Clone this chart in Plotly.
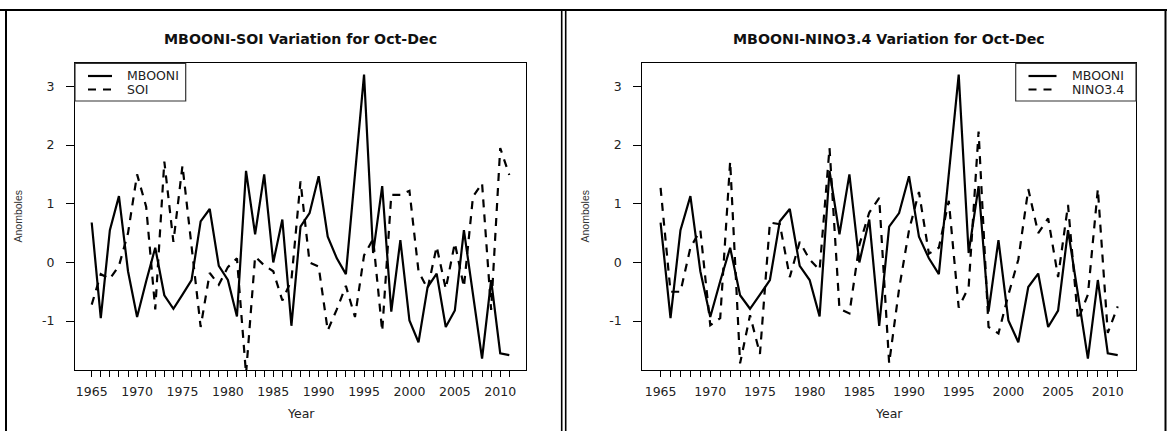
import plotly.graph_objects as go

# ---------------- data ----------------
years = list(range(1965, 2012))

mbooni = [0.68, -0.95, 0.55, 1.13, -0.15, -0.93, -0.32, 0.25, -0.56, -0.79,
          -0.55, -0.30, 0.70, 0.91, -0.06, -0.30, -0.92, 1.56, 0.48, 1.50,
          0.00, 0.73, -1.08, 0.61, 0.84, 1.47, 0.44, 0.07, -0.20, 1.45,
          3.20, 0.16, 1.30, -0.84, 0.38, -0.99, -1.36, -0.42, -0.19, -1.10,
          -0.82, 0.55, -0.55, -1.64, -0.30, -1.55, -1.58]

soi = [-0.72, -0.20, -0.28, -0.06, 0.50, 1.50, 0.95, -0.80, 1.72, 0.35,
       1.65, 0.30, -1.10, -0.18, -0.38, -0.08, 0.07, -1.90, 0.10, -0.05,
       -0.15, -0.65, -0.30, 1.38, 0.00, -0.07, -1.16, -0.80, -0.40, -0.93,
       0.12, 0.40, -1.17, 1.15, 1.15, 1.22, -0.15, -0.45, 0.27, -0.45,
       0.33, -0.42, 1.12, 1.35, -0.81, 1.95, 1.49]

nino34 = [1.27, -0.50, -0.50, 0.25, 0.55, -1.07, -0.95, 1.72, -1.72, -0.90,
          -1.56, 0.68, 0.65, -0.25, 0.35, 0.05, -0.13, 1.95, -0.79, -0.87,
          0.30, 0.85, 1.10, -1.72, -0.45, 0.55, 1.20, 0.15, 0.25, 1.05,
          -0.77, -0.42, 2.23, -1.10, -1.21, -0.55, 0.05, 1.25, 0.50, 0.75,
          -0.25, 0.98, -0.98, -0.55, 1.25, -1.20, -0.75]

x_tick_labels = [str(y) if y % 5 == 0 else "" for y in years]
y_ticks = [-1, 0, 1, 2, 3]
y_tick_labels = ["-1", "0", "1", "2", "3"]
titles = ["MBOONI-SOI Variation for Oct-Dec", "MBOONI-NINO3.4 Variation for Oct-Dec"]
legend_names = [["MBOONI", "SOI"], ["MBOONI", "NINO3.4"]]
x_title = "Year"
y_title = "Anomboles"

# ---------------- layout helpers ----------------
W, H = 1167, 431
def px(x):
    return x / W
def py(y):
    return 1 - y / H

FONT = "DejaVu Sans"
xr = [1965 - 0.04 * 46, 2011 + 0.04 * 46]
ylo, yhi = min(mbooni), max(mbooni)
yr = [ylo - 0.04 * (yhi - ylo), yhi + 0.04 * (yhi - ylo)]

LW = 2.2
DASH = "8px,7px"
solid = dict(color="black", width=LW)
dashed = dict(color="black", width=LW, dash=DASH)

fig = go.Figure()
fig.add_trace(go.Scatter(x=years, y=mbooni, mode="lines", name=legend_names[0][0], line=solid,
                         xaxis="x", yaxis="y", showlegend=False))
fig.add_trace(go.Scatter(x=years, y=soi, mode="lines", name=legend_names[0][1], line=dashed,
                         xaxis="x", yaxis="y", showlegend=False))
fig.add_trace(go.Scatter(x=years, y=mbooni, mode="lines", name=legend_names[1][0], line=solid,
                         xaxis="x2", yaxis="y2", showlegend=False))
fig.add_trace(go.Scatter(x=years, y=nino34, mode="lines", name=legend_names[1][1], line=dashed,
                         xaxis="x2", yaxis="y2", showlegend=False))

box_left = [75, 642.3]
box_right = [526, 1136]
box_top, box_bot = 63.3, 370

def xaxis(i):
    return dict(domain=[px(box_left[i]), px(box_right[i])], range=xr,
                tickvals=years, ticktext=x_tick_labels, tickmode="array",
                ticks="outside", ticklen=6, tickwidth=1, tickcolor="black",
                ticklabelstandoff=4,
                showline=True, mirror=True, linecolor="black", linewidth=1.2,
                showgrid=False, zeroline=False,
                tickfont=dict(family=FONT, size=12.5, color="#222"),
                anchor="y" if i == 0 else "y2")

def yaxis(i):
    return dict(domain=[py(box_bot), py(box_top)], range=yr,
                tickvals=y_ticks, ticktext=y_tick_labels, tickmode="array",
                ticks="outside", ticklen=8, tickwidth=1, tickcolor="black",
                ticklabelstandoff=9,
                showline=True, mirror=True, linecolor="black", linewidth=1.2,
                showgrid=False, zeroline=False,
                tickfont=dict(family=FONT, size=12.5, color="#222"),
                anchor="x" if i == 0 else "x2")

ann = []
shapes = []
for i in range(2):
    cx = (box_left[i] + box_right[i]) / 2
    ann.append(dict(text="<b>" + titles[i] + "</b>", x=px(cx), y=py(39), xref="paper", yref="paper",
                    showarrow=False, xanchor="center", yanchor="middle",
                    font=dict(family=FONT, size=14.2, color="#111")))
    ann.append(dict(text=x_title, x=px(cx), y=py(413), xref="paper", yref="paper",
                    showarrow=False, xanchor="center", yanchor="middle",
                    font=dict(family=FONT, size=12.5, color="#222")))
    ann.append(dict(text=y_title, x=px([17.5, 584.5][i]), y=py(216), xref="paper", yref="paper",
                    showarrow=False, xanchor="center", yanchor="middle", textangle=-90,
                    font=dict(family="Liberation Sans", size=10.5, color="#333")))

# legend boxes (framed key in the plot corner)
leg_box = [(75, 185.7), (1015.7, 1136)]
leg_line = [(88, 112), (1028.5, 1056.5)]
leg_text_x = [125, 1070]
leg_rows = [76, 89.5]
for i in range(2):
    x0, x1 = leg_box[i]
    shapes.append(dict(type="rect", xref="paper", yref="paper",
                       x0=px(x0), x1=px(x1), y0=py(box_top), y1=py(101),
                       line=dict(color="#333", width=1.2), fillcolor="white", layer="above"))
    for r in range(2):
        shapes.append(dict(type="line", xref="paper", yref="paper",
                           x0=px(leg_line[i][0]), x1=px(leg_line[i][1]),
                           y0=py(leg_rows[r]), y1=py(leg_rows[r]), layer="above",
                           line=dict(color="black", width=LW, dash="solid" if r == 0 else DASH)))
        ann.append(dict(text=legend_names[i][r], x=px(leg_text_x[i]), y=py(leg_rows[r]),
                        xref="paper", yref="paper", showarrow=False,
                        xanchor="left", yanchor="middle",
                        font=dict(family=FONT, size=12.5, color="#222")))

# outer frames of the two panels
frame = dict(color="black", width=2)
shapes += [
    dict(type="line", xref="paper", yref="paper", x0=0, x1=1, y0=py(10), y1=py(10), line=frame),
    dict(type="line", xref="paper", yref="paper", x0=px(6), x1=px(6), y0=py(10), y1=0, line=frame),
    dict(type="line", xref="paper", yref="paper", x0=px(561.7), x1=px(561.7), y0=py(10), y1=0,
         line=dict(color="black", width=1.6)),
    dict(type="line", xref="paper", yref="paper", x0=px(565.7), x1=px(565.7), y0=py(10), y1=0,
         line=dict(color="black", width=1.6)),
    dict(type="line", xref="paper", yref="paper", x0=px(1165.5), x1=px(1165.5), y0=py(10), y1=0,
         line=frame),
]

fig.update_layout(
    width=W, height=H, margin=dict(l=0, r=0, t=0, b=0),
    paper_bgcolor="white", plot_bgcolor="white",
    xaxis=xaxis(0), yaxis=yaxis(0), xaxis2=xaxis(1), yaxis2=yaxis(1),
    annotations=ann, shapes=shapes, showlegend=False,
)

fig.write_html("out.html")
